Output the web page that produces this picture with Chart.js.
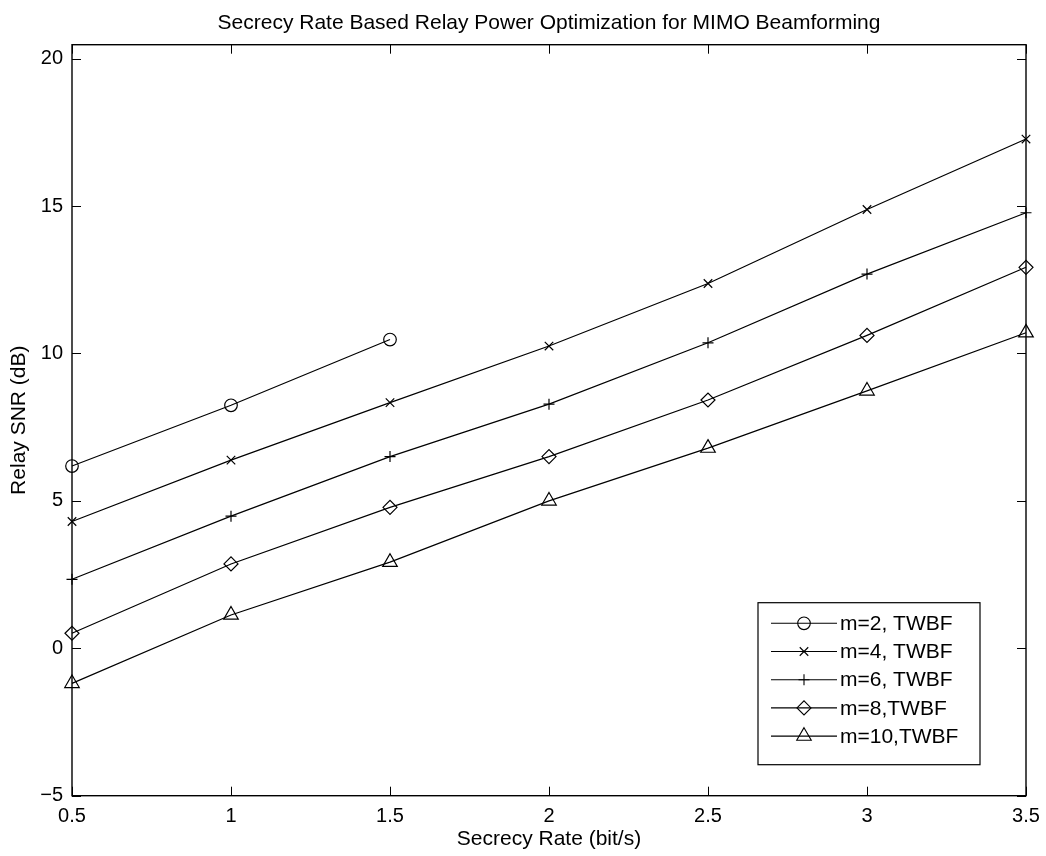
<!DOCTYPE html>
<html>
<head>
<meta charset="utf-8">
<title>Secrecy Rate Based Relay Power Optimization for MIMO Beamforming</title>
<script src="https://cdn.jsdelivr.net/npm/chart.js@4/dist/chart.umd.min.js"></script>
<style>
  html, body { margin: 0; padding: 0; background: #fff; }
  #wrap { width: 1046px; height: 856px; position: relative; }
</style>
</head>
<body>
<div id="wrap"><canvas id="c"></canvas></div>
<script>
// Secrecy rate (bit/s) on the horizontal axis
const secrecyRate = [0.5, 1, 1.5, 2, 2.5, 3, 3.5];

// Relay SNR (dB) for each number of relay antennas m
const snrM2  = [6.18, 8.24, 10.47];
const snrM4  = [4.30, 6.38, 8.33, 10.25, 12.37, 14.88, 17.27];
const snrM6  = [2.34, 4.48, 6.50, 8.28, 10.36, 12.69, 14.77];
const snrM8  = [0.51, 2.86, 4.78, 6.50, 8.42, 10.61, 12.92];
const snrM10 = [-1.19, 1.13, 2.92, 5.00, 6.79, 8.73, 10.70];

const seriesLabels = ['m=2, TWBF', 'm=4, TWBF', 'm=6, TWBF', 'm=8,TWBF', 'm=10,TWBF'];
const seriesValues = [snrM2, snrM4, snrM6, snrM8, snrM10];
const seriesMarkers = ['circle', 'crossRot', 'cross', 'rectRot', 'triangle'];
const seriesMarkerRadius = [6.3, 6, 5.5, 7, 8.4];

const xTicks = [0.5, 1, 1.5, 2, 2.5, 3, 3.5];
const yTicks = [-5, 0, 5, 10, 15, 20];

const FONT = '"Liberation Sans", Arial, Helvetica, sans-serif';
const INK = '#000';

function toPoints(values) {
  return values.map((v, i) => ({ x: secrecyRate[i], y: v }));
}

const datasets = seriesValues.map((vals, k) => ({
  label: seriesLabels[k],
  data: toPoints(vals),
  borderColor: INK,
  borderWidth: 1.2,
  backgroundColor: 'rgba(0,0,0,0)',
  pointStyle: seriesMarkers[k],
  pointRadius: seriesMarkerRadius[k],
  pointHoverRadius: seriesMarkerRadius[k],
  pointBorderColor: INK,
  pointBackgroundColor: 'rgba(0,0,0,0)',
  pointBorderWidth: 1.2,
  tension: 0,
  fill: false,
  clip: 12
}));

// Boxed axes with inward tick marks on all four sides, plus the title
const boxAxes = {
  id: 'boxAxes',
  afterDraw(chart) {
    const { ctx, chartArea: a, scales } = chart;
    const len = 9;
    ctx.save();
    ctx.strokeStyle = INK;
    ctx.lineWidth = 1;
    ctx.beginPath();
    xTicks.forEach(t => {
      const px = Math.round(scales.x.getPixelForValue(t)) + 0.5;
      ctx.moveTo(px, a.bottom); ctx.lineTo(px, a.bottom - len);
      ctx.moveTo(px, a.top); ctx.lineTo(px, a.top + len);
    });
    yTicks.forEach(t => {
      const py = Math.round(scales.y.getPixelForValue(t)) + 0.5;
      ctx.moveTo(a.left, py); ctx.lineTo(a.left + len, py);
      ctx.moveTo(a.right, py); ctx.lineTo(a.right - len, py);
    });
    ctx.stroke();
    ctx.lineWidth = 1.4;
    ctx.strokeRect(a.left, a.top, a.right - a.left, a.bottom - a.top);

    ctx.fillStyle = INK;
    ctx.font = '21px ' + FONT;
    ctx.textAlign = 'center';
    ctx.textBaseline = 'alphabetic';
    ctx.fillText('Secrecy Rate Based Relay Power Optimization for MIMO Beamforming',
      (a.left + a.right) / 2, 28.5);
    ctx.restore();
  }
};

// Legend box in the lower right of the plot: line sample with marker, then label
const boxLegend = {
  id: 'boxLegend',
  afterDraw(chart) {
    const { ctx, chartArea: a } = chart;
    const w = 222, h = 162, rowH = 28.2;
    const x0 = a.right - 46 - w, y0 = a.bottom - 31 - h;
    ctx.save();
    ctx.fillStyle = '#fff';
    ctx.fillRect(x0, y0, w, h);
    ctx.strokeStyle = INK;
    ctx.lineWidth = 1.2;
    ctx.strokeRect(x0, y0, w, h);
    ctx.font = '21px ' + FONT;
    ctx.textAlign = 'left';
    ctx.textBaseline = 'middle';
    chart.data.datasets.forEach((ds, i) => {
      const cy = y0 + 20.6 + i * rowH;
      ctx.strokeStyle = INK;
      ctx.lineWidth = 1.1;
      ctx.beginPath();
      ctx.moveTo(x0 + 13, cy); ctx.lineTo(x0 + 79, cy);
      ctx.stroke();
      ctx.beginPath();
      ctx.strokeStyle = INK;
      ctx.fillStyle = 'rgba(0,0,0,0)';
      ctx.lineWidth = 1.1;
      Chart.helpers.drawPoint(ctx, {
        pointStyle: ds.pointStyle,
        rotation: 0,
        radius: ds.pointRadius,
        borderWidth: 1.1
      }, x0 + 46, cy);
      ctx.fillStyle = INK;
      ctx.fillText(ds.label, x0 + 82, cy + 1);
    });
    ctx.restore();
  }
};

new Chart(document.getElementById('c'), {
  type: 'line',
  data: { datasets },
  options: {
    responsive: true,
    maintainAspectRatio: false,
    animation: false,
    events: [],
    layout: { padding: { top: 44.7, right: 20, left: 0, bottom: 0 } },
    plugins: {
      legend: { display: false },
      title: { display: false },
      tooltip: { enabled: false }
    },
    scales: {
      x: {
        type: 'linear',
        min: 0.5,
        max: 3.5,
        afterFit(s) { s.height = 60.3; s.paddingLeft = 0; s.paddingRight = 0; },
        afterBuildTicks(s) { s.ticks = xTicks.map(v => ({ value: v })); },
        grid: { display: false, drawTicks: false },
        border: { display: false },
        ticks: {
          color: INK,
          padding: 9,
          maxRotation: 0,
          autoSkip: false,
          font: { family: FONT, size: 20 },
          callback: v => String(v)
        },
        title: {
          display: true,
          text: 'Secrecy Rate (bit/s)',
          color: INK,
          font: { family: FONT, size: 21 },
          padding: { top: 0, bottom: 4.5 }
        }
      },
      y: {
        type: 'linear',
        min: -5,
        max: 20.47,
        afterFit(s) { s.width = 72; s.paddingTop = 0; s.paddingBottom = 0; },
        afterBuildTicks(s) { s.ticks = yTicks.map(v => ({ value: v })); },
        grid: { display: false, drawTicks: false },
        border: { display: false },
        ticks: {
          color: INK,
          padding: 9,
          autoSkip: false,
          font: { family: FONT, size: 20 },
          callback: v => (v < 0 ? '\u2212' + Math.abs(v) : String(v))
        },
        title: {
          display: true,
          text: 'Relay SNR (dB)',
          color: INK,
          font: { family: FONT, size: 21 },
          padding: { top: 7, bottom: 0 }
        }
      }
    }
  },
  plugins: [boxAxes, boxLegend]
});
</script>
</body>
</html>
